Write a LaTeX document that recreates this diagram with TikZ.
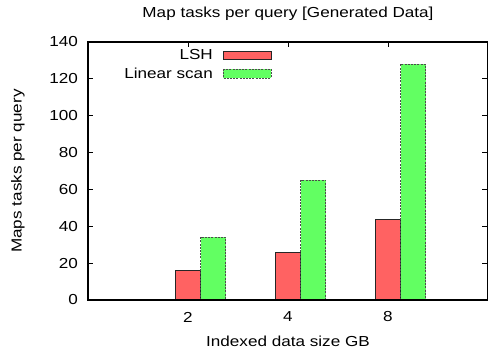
\documentclass[tikz,border=0pt]{standalone}
\usepackage{fontspec}
\setmainfont[FakeStretch=1.18]{Liberation Sans}
\definecolor{lshred}{RGB}{255,98,98}
\definecolor{scangreen}{RGB}{98,255,98}
\tikzset{
  lshbar/.style={fill=lshred,draw=black!85,line width=0.8pt},
  scanbar/.style={fill=scangreen,draw=black!70,line width=0.8pt,dash pattern=on 2pt off 1.2pt},
  ticklabel/.style={font=\fontsize{14.5}{16}\selectfont,inner sep=0pt}
}
\begin{document}
\begin{tikzpicture}[x=1pt,y=-1pt]
  \useasboundingbox (0,0) rectangle (488,355);
  % bars, value v drawn from y=300 up by 1.843 per unit
  \foreach \c/\lsh/\scan in {188/16/34,288/26/65,388/44/128}{
    \filldraw[lshbar] (\c-12.5,300) rectangle (\c+12.5,{300-1.843*\lsh});
    \filldraw[scanbar] (\c+12.5,300) rectangle (\c+37.5,{300-1.843*\scan});
  }
  % frame and ticks
  \draw[line width=1.3pt] (88,42) rectangle (487.4,300);
  \foreach \v in {20,40,...,120}{
    \draw[line width=1pt] (88,{300-1.843*\v}) -- +(5,0);
    \draw[line width=1pt] (487.4,{300-1.843*\v}) -- +(-5,0);
  }
  \foreach \c in {188,288,388}
    \draw[line width=1pt] (\c,42) -- +(0,5);
  \foreach \v in {0,20,...,140}
    \node[ticklabel,anchor=east] (ytick\v) at (78,{300-1.843*\v}) {\v};
  \foreach \c/\t in {188/2,288/4,388/8}
    \node[ticklabel] (xtick\t) at (\c,317) {\t};
  % labels
  \node[ticklabel] (title) at (288,14) {Map tasks per query [Generated Data]};
  \node[ticklabel] (xlabel) at (288,341) {Indexed data size GB};
  \node[ticklabel,rotate=90] (ylabel) at (18,171) {Maps tasks per query};
  % legend
  \node[ticklabel,anchor=east] (lshkey) at (213,55) {LSH};
  \filldraw[lshbar] (223,51) rectangle (271,59);
  \node[ticklabel,anchor=east] (scankey) at (213,73) {Linear scan};
  \filldraw[scanbar] (223,69) rectangle (271,78);
\end{tikzpicture}
\end{document}
